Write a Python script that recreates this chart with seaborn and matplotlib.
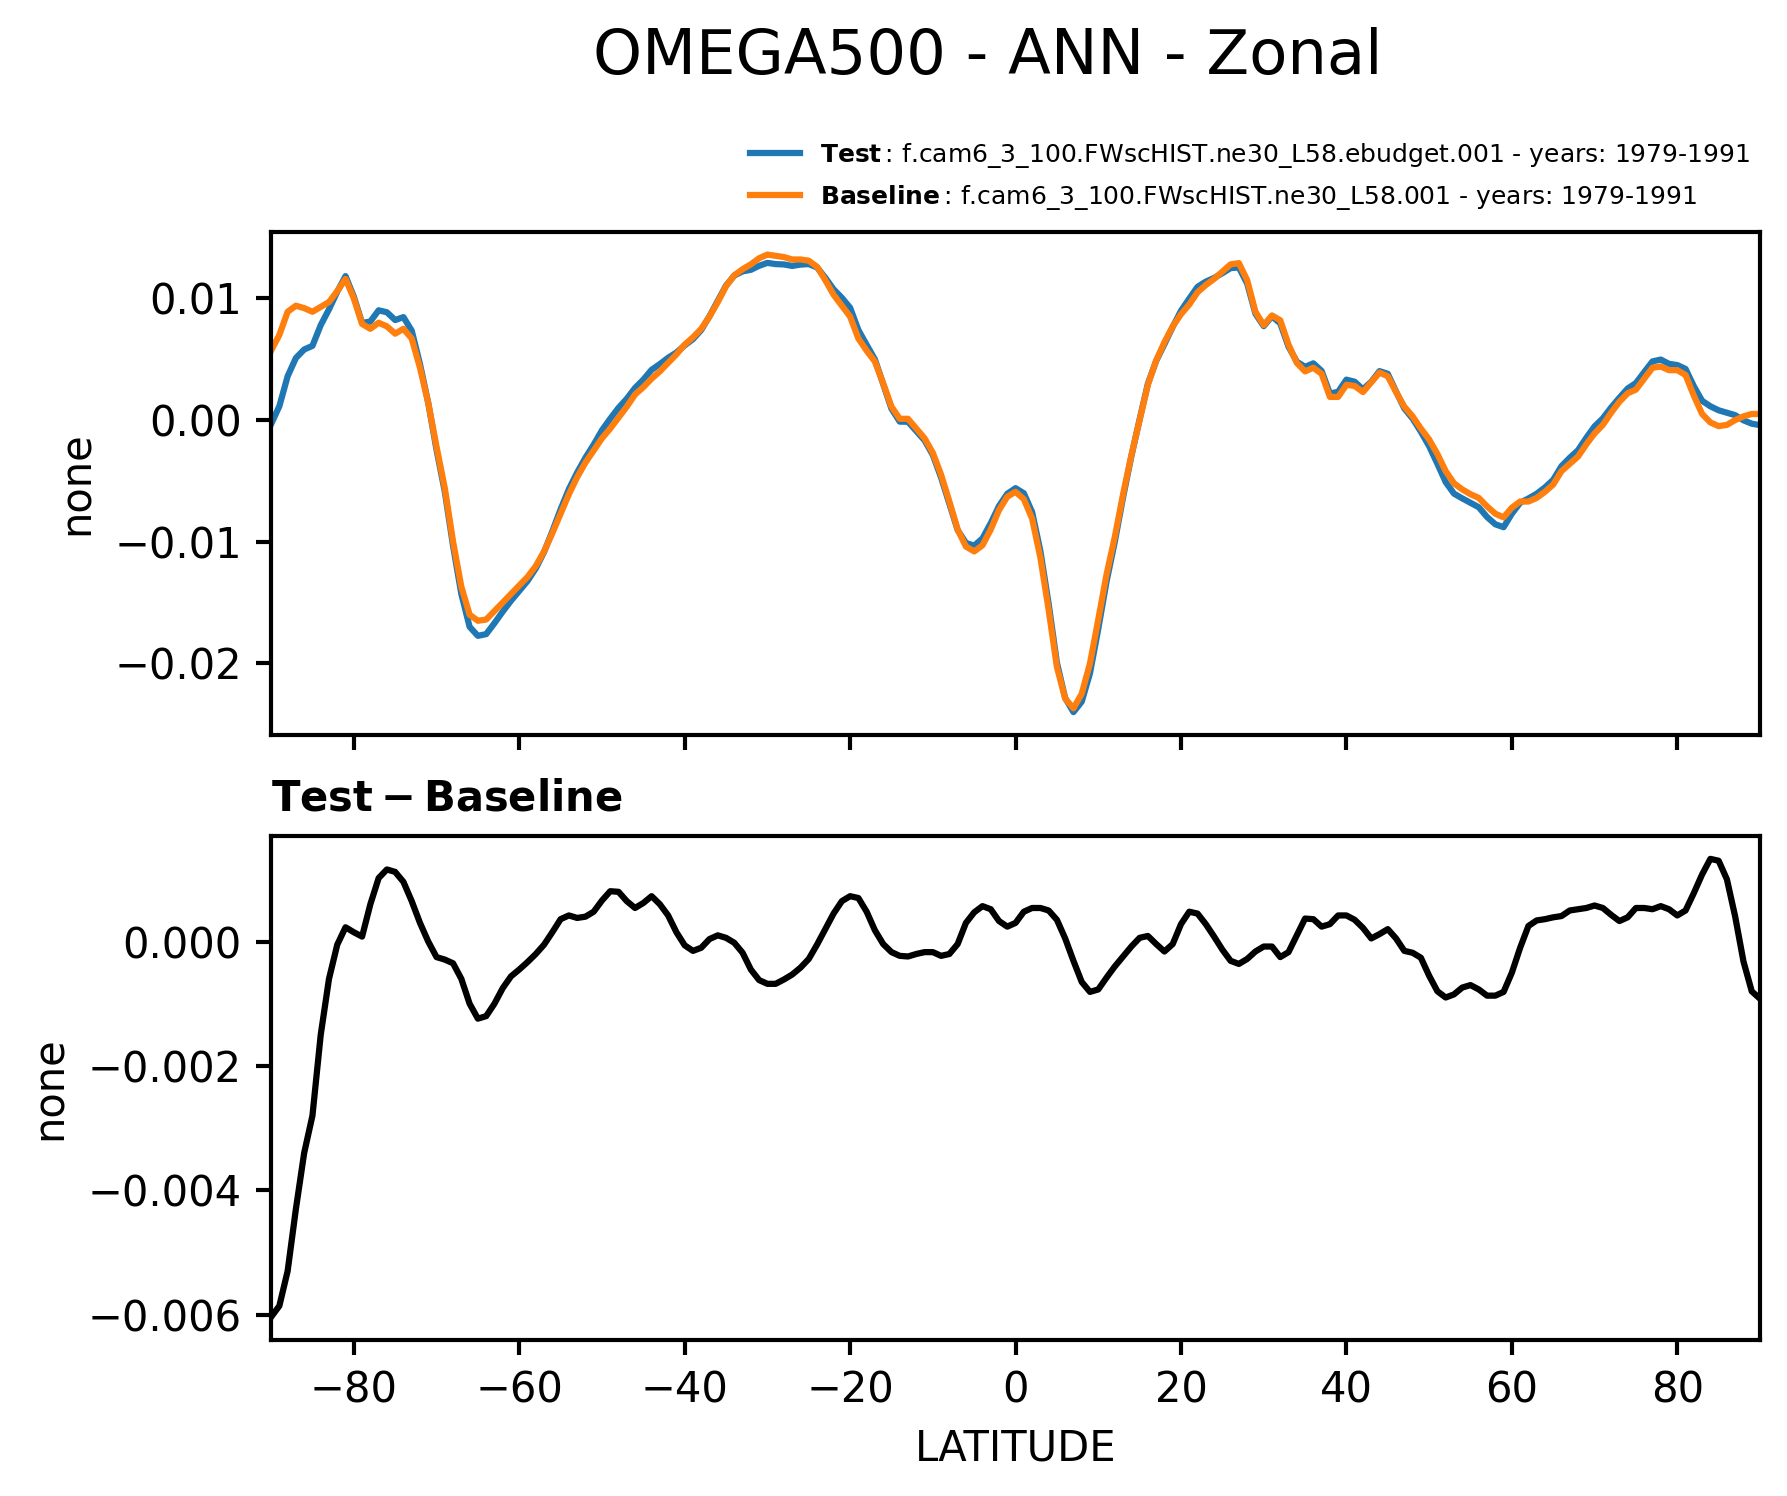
import numpy as np
import pandas as pd
import matplotlib
matplotlib.use('Agg')
import matplotlib.pyplot as plt
import seaborn as sns

# latitude grid (1 degree)
lat = list(range(-90, 91))

# baseline OMEGA500 zonal mean
baseline = [
    0.0057, 0.0070, 0.0089, 0.0094, 0.0092, 0.0089, 0.0093, 0.0097, 0.0106, 0.0116,
    0.0100, 0.0079, 0.0075, 0.0080, 0.0077, 0.0071, 0.0075, 0.0067, 0.0043, 0.0014,
    -0.0022, -0.0056, -0.0100, -0.0137, -0.0160, -0.0165, -0.0164, -0.0157, -0.0150, -0.0143,
    -0.0136, -0.0129, -0.0120, -0.0108, -0.0093, -0.0077, -0.0061, -0.0047, -0.0035, -0.0025,
    -0.0015, -0.0007, 0.0002, 0.0011, 0.0021, 0.0027, 0.0034, 0.0040, 0.0047, 0.0054,
    0.0062, 0.0068, 0.0075, 0.0085, 0.0097, 0.0110, 0.0119, 0.0124, 0.0128, 0.0133,
    0.0136, 0.0135, 0.0134, 0.0132, 0.0132, 0.0131, 0.0126, 0.0115, 0.0103, 0.0094,
    0.0085, 0.0067, 0.0057, 0.0048, 0.0030, 0.0011, 0.0001, 0.0001, -0.0007, -0.0015,
    -0.0027, -0.0045, -0.0067, -0.0090, -0.0104, -0.0108, -0.0103, -0.0090, -0.0074, -0.0063,
    -0.0059,
    -0.0065, -0.0081, -0.0113, -0.0156, -0.0203, -0.0229, -0.0237, -0.0225, -0.0200, -0.0164,
    -0.0127, -0.0096, -0.0061, -0.0029, 0.0000, 0.0029, 0.0049, 0.0064, 0.0077, 0.0087,
    0.0095, 0.0105, 0.0111, 0.0116, 0.0122, 0.0128, 0.0129, 0.0115, 0.0089, 0.0078,
    0.0086, 0.0082, 0.0062, 0.0047, 0.0040, 0.0043, 0.0038, 0.0019, 0.0019, 0.0029,
    0.0028, 0.0023, 0.0031, 0.0039, 0.0036, 0.0023, 0.0011, 0.0003, -0.0007, -0.0016,
    -0.0028, -0.0042, -0.0052, -0.0057, -0.0061, -0.0064, -0.0071, -0.0077, -0.0080, -0.0072,
    -0.0067, -0.0067, -0.0064, -0.0059, -0.0053, -0.0042, -0.0036, -0.0030, -0.0020, -0.0011,
    -0.0004, 0.0006, 0.0015, 0.0022, 0.0025, 0.0034, 0.0043, 0.0044, 0.0041, 0.0041,
    0.0037, 0.0020, 0.0005, -0.0002, -0.0005, -0.0004, 0.0000, 0.0003, 0.0005, 0.0005,
]

# test - baseline
diff = [
    -0.00604, -0.00586, -0.00530, -0.00430, -0.00340, -0.00280, -0.00150, -0.00060, -0.00005, 0.00023,
    0.00015, 0.00008, 0.00060, 0.00102, 0.00116, 0.00112, 0.00096, 0.00065, 0.00030, 0.00000,
    -0.00025, -0.00029, -0.00035, -0.00060, -0.00100, -0.00124, -0.00120, -0.00100, -0.00075, -0.00056,
    -0.00045, -0.00033, -0.00020, -0.00005, 0.00015, 0.00036, 0.00042, 0.00038, 0.00040, 0.00048,
    0.00066, 0.00081, 0.00080, 0.00065, 0.00054, 0.00062, 0.00073, 0.00060, 0.00042, 0.00015,
    -0.00006, -0.00015, -0.00010, 0.00004, 0.00010, 0.00006, -0.00002, -0.00018, -0.00045, -0.00062,
    -0.00068, -0.00068, -0.00061, -0.00053, -0.00042, -0.00028, -0.00005, 0.00020, 0.00045, 0.00065,
    0.00073, 0.00070, 0.00048, 0.00018, -0.00004, -0.00017, -0.00023, -0.00024, -0.00020, -0.00017,
    -0.00017, -0.00023, -0.00020, -0.00004, 0.00030, 0.00047, 0.00057, 0.00052, 0.00033, 0.00024,
    0.00030,
    0.00048, 0.00054, 0.00054, 0.00050, 0.00035, 0.00005, -0.00031, -0.00065, -0.00081, -0.00077,
    -0.00058, -0.00040, -0.00024, -0.00008, 0.00006, 0.00009, -0.00004, -0.00016, -0.00004, 0.00028,
    0.00048, 0.00045, 0.00028, 0.00008, -0.00013, -0.00031, -0.00036, -0.00028, -0.00016, -0.00008,
    -0.00008, -0.00025, -0.00017, 0.00010, 0.00037, 0.00036, 0.00024, 0.00028, 0.00042, 0.00042,
    0.00035, 0.00022, 0.00005, 0.00012, 0.00020, 0.00005, -0.00015, -0.00018, -0.00026, -0.00055,
    -0.00080, -0.00090, -0.00085, -0.00074, -0.00070, -0.00077, -0.00087, -0.00087, -0.00081, -0.00050,
    -0.00010, 0.00025, 0.00034, 0.00036, 0.00039, 0.00041, 0.00050, 0.00052, 0.00054, 0.00058,
    0.00054, 0.00043, 0.00033, 0.00039, 0.00054, 0.00054, 0.00052, 0.00057, 0.00052, 0.00042,
    0.00050, 0.00078, 0.00108, 0.00133, 0.00130, 0.00100, 0.00040, -0.00032, -0.00080, -0.00092,
]

test = np.array(baseline) + np.array(diff)

test_label = r"$\bf{Test}\,$: f.cam6_3_100.FWscHIST.ne30_L58.ebudget.001 - years: 1979-1991"
base_label = r"$\bf{Baseline}\,$: f.cam6_3_100.FWscHIST.ne30_L58.001 - years: 1979-1991"

df = pd.DataFrame({'lat': lat, 'test': test, 'baseline': baseline, 'diff': diff})

plt.rcParams['font.family'] = ['DejaVu Sans']
plt.rcParams['axes.linewidth'] = 1.0

fig = plt.figure(figsize=(1787 / 300, 1496 / 300), dpi=300)
ax1 = fig.add_axes([0.1517, 0.5087, 0.8332, 0.3364])
ax2 = fig.add_axes([0.1517, 0.1043, 0.8332, 0.3369])

sns.lineplot(data=df, x='lat', y='test', ax=ax1, color='tab:blue', linewidth=1.5, label=test_label)
sns.lineplot(data=df, x='lat', y='baseline', ax=ax1, color='tab:orange', linewidth=1.5, label=base_label)
sns.lineplot(data=df, x='lat', y='diff', ax=ax2, color='black', linewidth=1.5)

for ax in (ax1, ax2):
    ax.set_xlim(-90, 90)
    ax.set_xticks([-80, -60, -40, -20, 0, 20, 40, 60, 80])
    ax.tick_params(labelsize=10, width=1.0)
    ax.set_ylabel('none', fontsize=10)

ax1.set_xticklabels([])
ax1.set_xlabel('')
ax1.set_yticks([0.01, 0.0, -0.01, -0.02])
ax2.set_yticks([0.0, -0.002, -0.004, -0.006])
ax2.set_xlabel('LATITUDE', fontsize=10)
ax2.set_title(r'$\mathbf{Test - Baseline}$', loc='left', fontsize=10)

ax1.legend(loc='lower right', bbox_to_anchor=(1.0, 1.02), frameon=False, fontsize=6,
           handlelength=2.0, borderaxespad=0.0)

fig.suptitle('OMEGA500 - ANN - Zonal', fontsize=15, x=0.5526, y=0.962, va='center')

fig.savefig('out.png', dpi=300)
